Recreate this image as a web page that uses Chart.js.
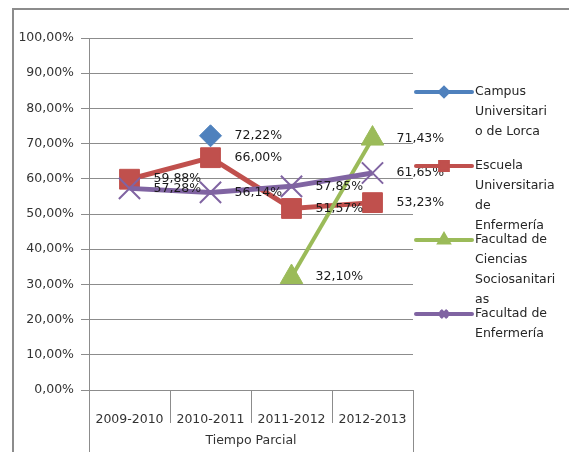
<!DOCTYPE html>
<html><head><meta charset="utf-8">
<script src="https://cdn.jsdelivr.net/npm/chart.js@4/dist/chart.umd.min.js"></script>
<style>html,body{margin:0;padding:0;background:#fff;overflow:hidden;}#wrap{width:569px;height:452px;position:relative;overflow:hidden;}canvas{display:block;}</style>
</head><body><div id="wrap"><canvas id="c" width="569" height="452"></canvas></div>
<script>
const categories = ["2009-2010", "2010-2011", "2011-2012", "2012-2013"];
const axisTitle = "Tiempo Parcial";
const seriesNames = ["Campus Universitario de Lorca", "Escuela Universitaria de Enfermería", "Facultad de Ciencias Sociosanitarias", "Facultad de Enfermería"];
const legendLines = [["Campus", "Universitari", "o de Lorca"], ["Escuela", "Universitaria", "de", "Enfermería"], ["Facultad de", "Ciencias", "Sociosanitari", "as"], ["Facultad de", "Enfermería"]];
const campusLorca = [null, 72.22, null, null];
const escuelaEnfermeria = [59.88, 66.00, 51.57, 53.23];
const facultadCiencias = [null, null, 32.10, 71.43];
const facultadEnfermeria = [57.28, 56.14, 57.85, 61.65];
const yMin = 0, yMax = 100, yStep = 10;

const FONT = "'DejaVu Sans'";
const fmt = v => v.toFixed(2).replace('.', ',') + '%';
const colors = ['#4F81BD', '#C0504D', '#9BBB59', '#8064A2'];
const styles = [
  {pointStyle: 'rectRot', radius: 11, borderWidth: 1, lw: 3},
  {pointStyle: 'rect', radius: 14, borderWidth: 1, lw: 5},
  {pointStyle: 'triangle', radius: 13, borderWidth: 1, lw: 4},
  {pointStyle: 'crossRot', radius: 15, borderWidth: 2, lw: 5}
];
const legendStyles = [
  {pointStyle: 'rectRot', radius: 4, borderWidth: 1},
  {pointStyle: 'rect', radius: 5.5, borderWidth: 1},
  {pointStyle: 'triangle', radius: 5, borderWidth: 1},
  {pointStyle: 'crossRot', radius: 5, borderWidth: 1.5}
];
const seriesData = [campusLorca, escuelaEnfermeria, facultadCiencias, facultadEnfermeria];

const datasets = seriesData.map((d, i) => ({
  label: seriesNames[i],
  data: d,
  borderColor: colors[i],
  backgroundColor: colors[i],
  borderWidth: styles[i].lw,
  pointStyle: styles[i].pointStyle,
  pointRadius: styles[i].radius,
  pointBorderWidth: styles[i].borderWidth,
  pointBackgroundColor: colors[i],
  pointBorderColor: colors[i],
  tension: 0,
  spanGaps: false,
  order: 3 - i
}));

const decor = {
  id: 'decor',
  beforeDraw(chart) {
    const ctx = chart.ctx;
    ctx.save();
    ctx.strokeStyle = '#8c8c8c';
    ctx.lineWidth = 2;
    ctx.beginPath();
    ctx.moveTo(chart.width + 5, 9);
    ctx.lineTo(13, 9);
    ctx.lineTo(13, chart.height + 5);
    ctx.stroke();
    ctx.restore();
  },
  afterDraw(chart) {
    const ctx = chart.ctx;
    const xs = chart.scales.x;
    const ca = chart.chartArea;
    ctx.save();
    ctx.strokeStyle = '#8c8c8c';
    ctx.lineWidth = 1;
    const n = categories.length;
    for (let i = 0; i <= n; i++) {
      let x;
      if (i === 0) x = ca.left;
      else if (i === n) x = ca.right;
      else x = (xs.getPixelForTick(i - 1) + xs.getPixelForTick(i)) / 2;
      x = Math.round(x) + 0.5;
      const yEnd = (i === 0 || i === n) ? chart.height : ca.bottom + 33;
      ctx.beginPath();
      ctx.moveTo(x, ca.bottom);
      ctx.lineTo(x, yEnd);
      ctx.stroke();
    }
    // data labels
    ctx.font = '12.5px ' + FONT;
    ctx.fillStyle = '#1a1a1a';
    ctx.textAlign = 'left';
    ctx.textBaseline = 'middle';
    chart.data.datasets.forEach((ds, i) => {
      const meta = chart.getDatasetMeta(i);
      meta.data.forEach((el, j) => {
        const v = ds.data[j];
        if (v === null || v === undefined) return;
        ctx.fillText(fmt(v), el.x + 24, el.y);
      });
    });
    // legend
    const lx0 = ca.right + 3, lx1 = ca.right + 59, tx = ca.right + 62;
    const baseY = ca.top + 54;
    ctx.fillStyle = '#262626';
    legendLines.forEach((lines, i) => {
      const y = baseY + 74 * i;
      ctx.strokeStyle = colors[i];
      ctx.lineWidth = 4;
      ctx.lineCap = 'round';
      ctx.beginPath();
      ctx.moveTo(lx0, y);
      ctx.lineTo(lx1, y);
      ctx.stroke();
      ctx.lineCap = 'butt';
      Chart.helpers.drawPoint(ctx, {
        pointStyle: legendStyles[i].pointStyle,
        radius: legendStyles[i].radius,
        borderWidth: legendStyles[i].borderWidth,
        rotation: 0
      }, (lx0 + lx1) / 2, y);
      ctx.fillStyle = colors[i];
      ctx.strokeStyle = colors[i];
      ctx.lineWidth = legendStyles[i].borderWidth;
      ctx.fill();
      ctx.stroke();
      ctx.fillStyle = '#262626';
      lines.forEach((t, k) => ctx.fillText(t, tx, y + 20 * k));
    });
    ctx.restore();
  }
};

new Chart(document.getElementById('c'), {
  type: 'line',
  data: {labels: categories, datasets},
  options: {
    responsive: false,
    animation: false,
    devicePixelRatio: 1,
    layout: {padding: {left: 0, top: 38, right: 156, bottom: 0}},
    plugins: {legend: {display: false}, tooltip: {enabled: false}, title: {display: false}},
    scales: {
      x: {
        type: 'category',
        offset: true,
        grid: {display: false},
        border: {display: false},
        ticks: {font: {family: FONT, size: 12.5}, color: '#333333', padding: 14, maxRotation: 0, autoSkip: false},
        title: {display: true, text: axisTitle, font: {family: FONT, size: 12.5}, color: '#333333', padding: {top: 0, bottom: 4}},
        afterFit: s => { s.height = 62; }
      },
      y: {
        min: yMin, max: yMax,
        ticks: {stepSize: yStep, callback: v => fmt(v), font: {family: FONT, size: 12.5}, color: '#333333', padding: 7},
        grid: {color: '#8c8c8c', lineWidth: 1, tickLength: 8},
        border: {display: true, color: '#8c8c8c', width: 1},
        afterFit: s => { s.width = 89; }
      }
    }
  },
  plugins: [decor]
});
</script>
</body></html>
